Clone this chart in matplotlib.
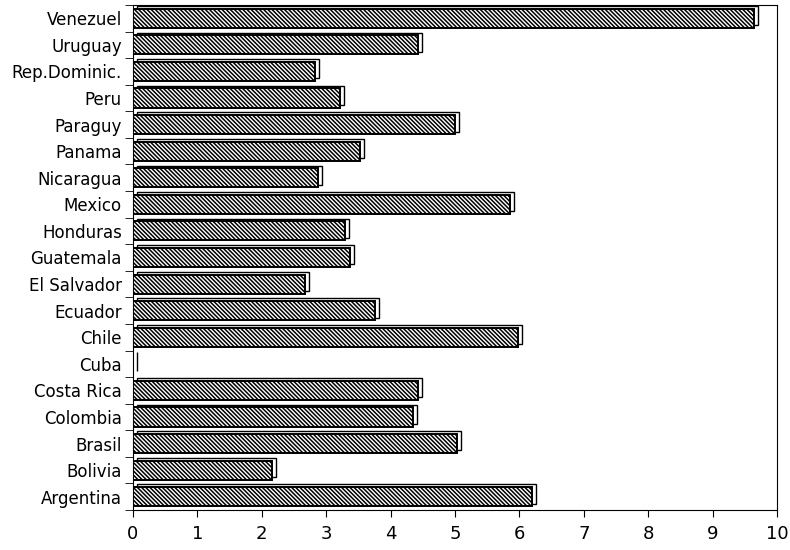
import numpy as np
import matplotlib
matplotlib.use('Agg')
import matplotlib.pyplot as plt

paises = ['Argentina', 'Bolivia', 'Brasil', 'Colombia', 'Costa Rica', 'Cuba',
          'Chile', 'Ecuador', 'El Salvador', 'Guatemala', 'Honduras', 'Mexico',
          'Nicaragua', 'Panama', 'Paraguy', 'Peru', 'Rep.Dominic.', 'Uruguay',
          'Venezuel']
valores = [6.2, 2.16, 5.03, 4.35, 4.43, 0.0,
           5.98, 3.76, 2.67, 3.37, 3.29, 5.85,
           2.87, 3.52, 5.0, 3.21, 2.83, 4.43,
           9.65]

plt.rcParams['hatch.linewidth'] = 1.1
fig = plt.figure(figsize=(7.9, 5.5), dpi=100)
ax = fig.add_axes([133 / 790, 40 / 550, (777 - 133) / 790, (545 - 40) / 550])

y = np.arange(len(paises))
alto = 0.72
# efeito 3D: caixa deslocada atras da barra
ax.barh(y + 0.1, valores, height=alto, left=0.06, color='white',
        edgecolor='black', linewidth=1.0, zorder=2)
ax.barh(y, valores, height=alto, color='white', edgecolor='black',
        hatch='\\' * 8, linewidth=1.4, zorder=3)

ax.set_xlim(0, 10)
ax.set_ylim(-0.5, len(paises) - 0.5)
ax.set_xticks(range(0, 11))
ax.set_yticks(y)
ax.set_yticklabels(paises)
ax.set_yticks(np.arange(-0.5, len(paises), 1), minor=True)
ax.tick_params(axis='y', which='major', length=0, labelsize=12, pad=8)
ax.tick_params(axis='y', which='minor', length=6, direction='out')
ax.tick_params(axis='x', length=5, direction='out', labelsize=13, pad=6)

fig.savefig('out.png', dpi=100)
